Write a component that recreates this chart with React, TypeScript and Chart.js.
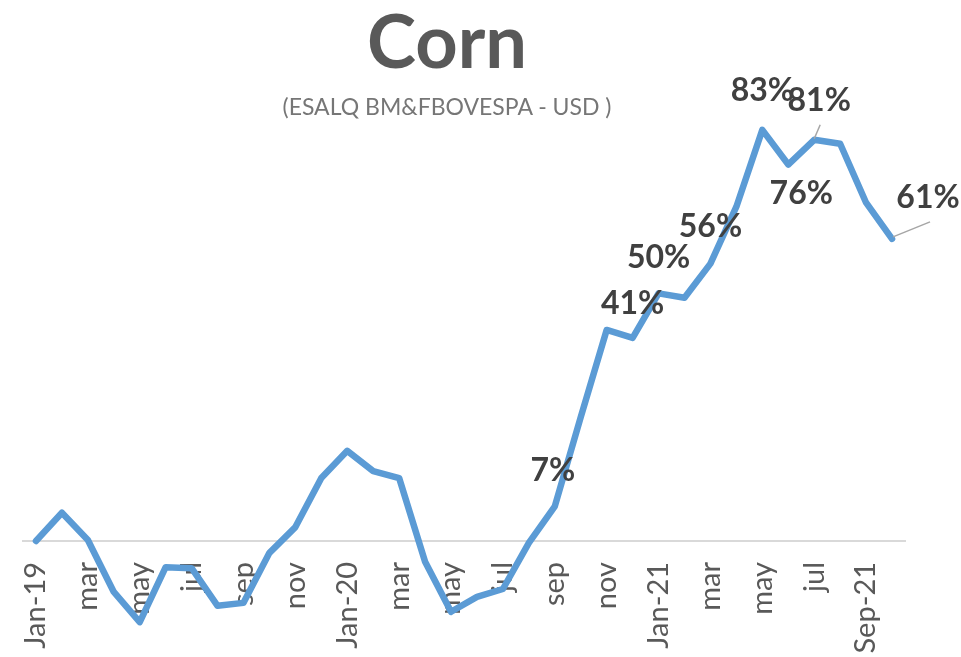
import React, { useEffect, useRef } from "react";
import { Chart, registerables } from "chart.js";

Chart.register(...registerables);

// ---- data ----
const categories = [
  "Jan-19", "feb", "mar", "apr", "may", "jun", "jul", "aug", "sep", "oct", "nov", "dec",
  "Jan-20", "feb", "mar", "apr", "may", "jun", "jul", "aug", "sep", "oct", "nov", "dec",
  "Jan-21", "feb", "mar", "apr", "may", "jun", "jul", "aug", "Sep-21", "oct",
];
const cornChange = [
  0, 5.7, 0.2, -10.3, -16.4, -5.3, -5.5, -13.1, -12.5, -2.4, 2.8, 12.7,
  18.2, 14.1, 12.7, -4.2, -14.3, -11.3, -9.7, -0.4, 7, 25, 42.6, 41,
  50, 49.1, 56, 67.5, 83, 76, 81, 80.2, 68.3, 61,
];
const labeledPoints = [20, 23, 24, 26, 28, 29, 30, 33];

// ---- label placement (style) ----
const labelOffsets: Record<number, [number, number]> = {
  20: [-2, -37],
  23: [0, -35],
  24: [0, -37],
  26: [0, -38],
  28: [0, -40],
  29: [13, 28],
  30: [5, -40],
  33: [36, -42],
};
const leaderLines: Record<number, [number, number, number, number]> = {
  30: [0, -1, 6, -15],
  33: [1, -2, 38, -17],
};

const LABEL_FONT_SIZE = 32;

const dataLabelPlugin = {
  id: "cornLabels",
  afterDatasetsDraw(chart: any) {
    const meta = chart.getDatasetMeta(0);
    const ctx = chart.ctx;
    ctx.save();
    ctx.strokeStyle = "#a6a6a6";
    ctx.lineWidth = 1.5;
    Object.keys(leaderLines).forEach((k) => {
      const i = Number(k);
      const pt = meta.data[i];
      const [x1, y1, x2, y2] = leaderLines[i];
      ctx.beginPath();
      ctx.moveTo(pt.x + x1, pt.y + y1);
      ctx.lineTo(pt.x + x2, pt.y + y2);
      ctx.stroke();
    });
    ctx.fillStyle = "#404040";
    ctx.font = `bold ${LABEL_FONT_SIZE}px Lato`;
    ctx.textAlign = "center";
    ctx.textBaseline = "alphabetic";
    labeledPoints.forEach((i) => {
      const pt = meta.data[i];
      const [dx, dy] = labelOffsets[i] || [0, -38];
      const text = `${Math.round(cornChange[i])}%`;
      ctx.fillText(text, pt.x + dx, pt.y + dy + LABEL_FONT_SIZE * 0.358);
    });
    ctx.restore();
  },
};

export default function App() {
  const canvasRef = useRef<HTMLCanvasElement | null>(null);

  useEffect(() => {
    if (!canvasRef.current) return;
    const chart = new Chart(canvasRef.current, {
      type: "line",
      data: {
        labels: categories,
        datasets: [
          {
            label: "Corn",
            data: cornChange,
            borderColor: "#5b9bd5",
            borderWidth: 6.5,
            pointRadius: 0,
            pointHoverRadius: 0,
            tension: 0,
            fill: false,
            clip: false as any,
            borderJoinStyle: "round",
            borderCapStyle: "round",
          },
        ],
      },
      options: {
        animation: false,
        responsive: false,
        maintainAspectRatio: false,
        events: [],
        layout: { padding: { left: 23, right: 56, top: 120, bottom: 17 } },
        plugins: {
          legend: { display: false },
          title: { display: false },
          tooltip: { enabled: false },
        },
        scales: {
          x: {
            type: "category",
            offset: true,
            position: { y: 0 } as any,
            afterFit: (scale: any) => {
              scale.height = 0;
            },
            grid: { display: false, drawTicks: false },
            border: { display: true, color: "#d9d9d9", width: 2 },
            ticks: {
              autoSkip: false,
              minRotation: 90,
              maxRotation: 90,
              padding: 21,
              color: "#595959",
              font: { family: "Lato", size: 29 },
              callback: (_v: any, i: number) => (i % 2 === 0 ? categories[i] : ""),
            },
          },
          y: {
            display: false,
            min: -20,
            max: 85,
          },
        },
      },
      plugins: [dataLabelPlugin],
    });
    return () => chart.destroy();
  }, []);

  return (
    <div
      style={{
        position: "fixed",
        left: 0,
        top: 0,
        width: 961,
        height: 657,
        background: "#ffffff",
        overflow: "hidden",
      }}
    >
      <canvas ref={canvasRef} width={961} height={657} style={{ position: "absolute", left: 0, top: 0 }} />
      <div
        style={{
          position: "absolute",
          left: 247,
          width: 400,
          top: 3,
          textAlign: "center",
          font: "bold 74px Lato",
          lineHeight: "74px",
          color: "#595959",
          whiteSpace: "nowrap",
        }}
      >
        Corn
      </div>
      <div
        style={{
          position: "absolute",
          left: 147,
          width: 600,
          top: 95,
          textAlign: "center",
          font: "23px Lato",
          lineHeight: "23px",
          color: "#767676",
          whiteSpace: "nowrap",
        }}
      >
        (ESALQ BM&amp;FBOVESPA - USD )
      </div>
    </div>
  );
}
